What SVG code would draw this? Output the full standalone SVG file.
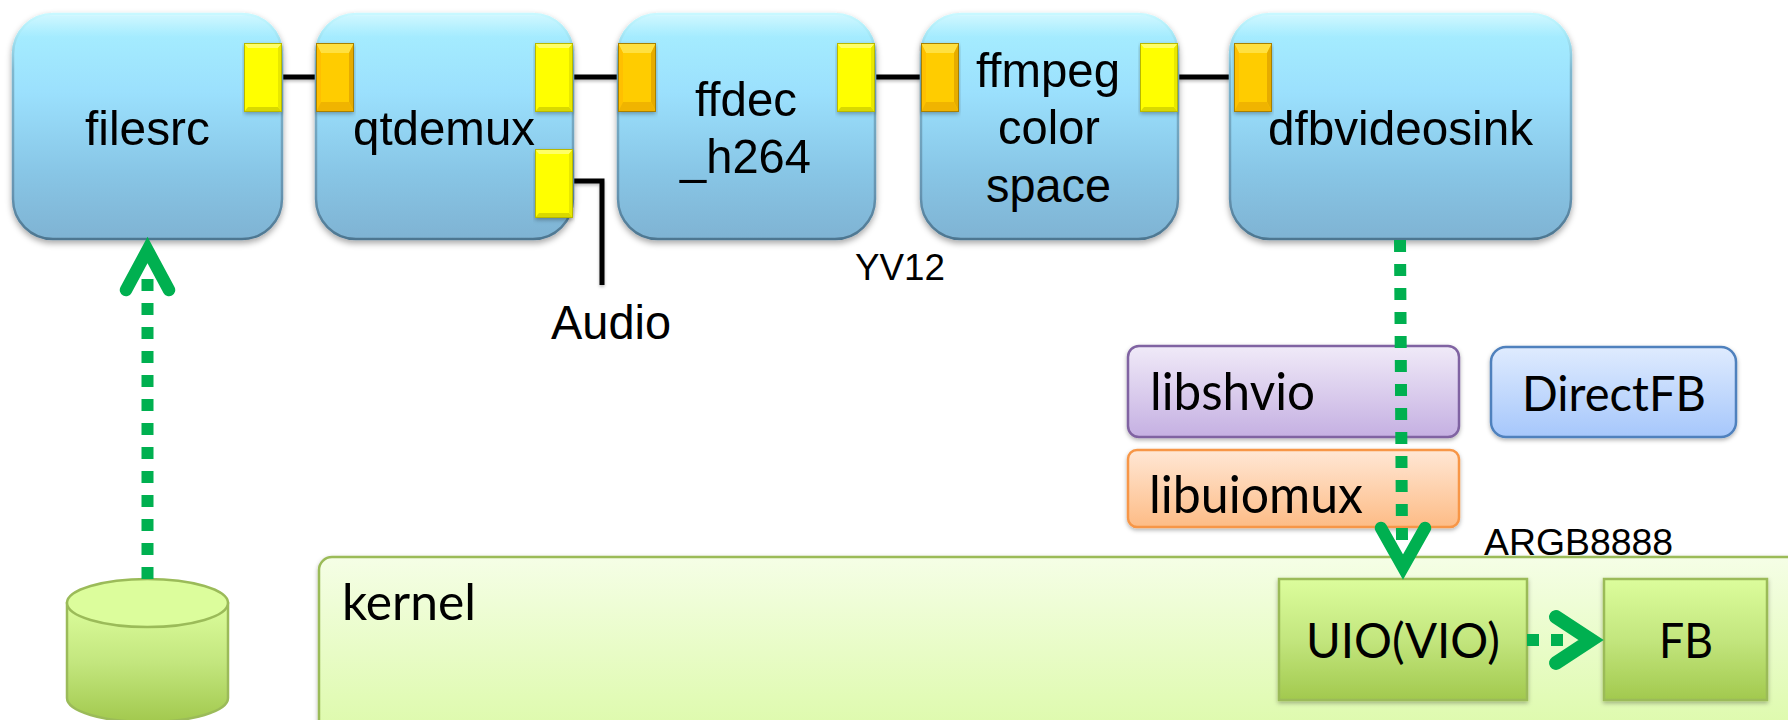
<svg xmlns="http://www.w3.org/2000/svg" width="1788" height="720" viewBox="0 0 1788 720">
<style>
.a{font-family:"Liberation Sans",Arial,sans-serif;fill:#000}
.c{font-family:Lato,"Noto Sans",sans-serif;fill:#000}
.blk{fill:url(#gBlue);stroke:url(#gBevel);stroke-width:2.500;filter:url(#sh)}
.hi{fill:url(#gHi);stroke:none}
.wire{fill:none;stroke:#000;stroke-width:5;filter:url(#shLine)}
.dots{fill:none;stroke:#00b050;stroke-width:12;stroke-dasharray:12 12}
.head{fill:none;stroke:#00b050;stroke-width:12.500;stroke-linecap:round;stroke-linejoin:miter;stroke-miterlimit:10}
.g{fill:url(#gGreen);stroke:#9bbb59;stroke-width:2.500;filter:url(#sh2)}
</style>
<defs>
<linearGradient id="gBlue" x1="0" y1="0" x2="0" y2="1"><stop offset="0" stop-color="#a8f0ff"/><stop offset=".35" stop-color="#9be0fd"/><stop offset=".7" stop-color="#88c6e6"/><stop offset="1" stop-color="#7fb3d3"/></linearGradient>
<linearGradient id="gBevel" x1="0" y1="0" x2="0" y2="1"><stop offset="0" stop-color="#c8f8ff"/><stop offset=".08" stop-color="#a8eaf8"/><stop offset=".25" stop-color="#7fb8d0"/><stop offset=".8" stop-color="#6593b0"/><stop offset="1" stop-color="#4d7690"/></linearGradient>
<linearGradient id="gHi" x1="0" y1="0" x2="0" y2="1"><stop offset="0" stop-color="#fff" stop-opacity=".45"/><stop offset=".07" stop-color="#fff" stop-opacity=".12"/><stop offset=".1" stop-color="#fff" stop-opacity="0"/></linearGradient>
<linearGradient id="gGreen" x1="0" y1="0" x2="0" y2="1"><stop offset="0" stop-color="#dcfd9c"/><stop offset=".5" stop-color="#c3e67e"/><stop offset="1" stop-color="#a2c94e"/></linearGradient>
<linearGradient id="gKern" x1="0" y1="0" x2="0" y2="1"><stop offset="0" stop-color="#f5fee6"/><stop offset="1" stop-color="#dbfaa6"/></linearGradient>
<linearGradient id="gPur" x1="0" y1="0" x2="0" y2="1"><stop offset="0" stop-color="#f0eaf8"/><stop offset="1" stop-color="#c5b0e2"/></linearGradient>
<linearGradient id="gOra" x1="0" y1="0" x2="0" y2="1"><stop offset="0" stop-color="#ffe7d5"/><stop offset="1" stop-color="#fdbc86"/></linearGradient>
<linearGradient id="gSky" x1="0" y1="0" x2="0" y2="1"><stop offset="0" stop-color="#dfebfe"/><stop offset="1" stop-color="#a6c7fb"/></linearGradient>
<filter id="sh" x="-10%" y="-10%" width="120%" height="125%"><feDropShadow dx="0" dy="3" stdDeviation="3" flood-color="#000" flood-opacity=".35"/></filter>
<filter id="sh2" x="-5%" y="-5%" width="110%" height="115%"><feDropShadow dx="0" dy="2" stdDeviation="2" flood-color="#000" flood-opacity=".3"/></filter>
<filter id="shLine" filterUnits="userSpaceOnUse" x="0" y="0" width="1788" height="720"><feDropShadow dx="0" dy="2" stdDeviation="1.500" flood-color="#000" flood-opacity=".25"/></filter>
<g id="portY" filter="url(#sh2)">
<rect width="38" height="69" fill="#ffff00"/>
<polygon points="0,0 38,0 34,5 4,5" fill="#ffff66"/>
<polygon points="0,69 38,69 34,64 4,64" fill="#d9d900"/>
<polygon points="38,0 38,69 34,64 34,5" fill="#e8e800"/>
<rect x=".5" y=".5" width="37" height="68" fill="none" stroke="#b8b800" stroke-width="1"/>
</g>
<g id="portO" filter="url(#sh2)">
<rect width="38" height="69" fill="#ffcc00"/>
<polygon points="0,0 38,0 33,10 5,10" fill="#ffe040"/>
<polygon points="0,0 5,10 5,59 0,69" fill="#ffc000"/>
<polygon points="38,0 38,69 33,59 33,10" fill="#e6ac00"/>
<polygon points="0,69 38,69 33,59 5,59" fill="#f0b400"/>
<rect x=".5" y=".5" width="37" height="68" fill="none" stroke="#a88000" stroke-width="1"/>
</g>
</defs>
<rect width="1788" height="720" fill="#fff"/>

<g id="kernel">
<rect x="319" y="557" width="1500" height="190" rx="13" fill="url(#gKern)" stroke="#9bbb59" stroke-width="2.500" filter="url(#sh2)"/>
<text class="c" x="342" y="620" font-size="51" textLength="134" lengthAdjust="spacingAndGlyphs">kernel</text>
</g>

<g id="wires">
<path class="wire" d="M282 77H316"/>
<path class="wire" d="M573 77H618"/>
<path class="wire" d="M875 77H921"/>
<path class="wire" d="M1178 77H1234"/>
<path class="wire" d="M573 181H602V285"/>
</g>

<g id="filesrc">
<rect class="blk" x="13" y="14" width="269" height="225" rx="40"/>
<rect class="hi" x="14" y="15" width="267" height="223" rx="39"/>
<use href="#portY" x="244" y="43"/>
<text class="a" x="85" y="145" font-size="49" textLength="125" lengthAdjust="spacingAndGlyphs">filesrc</text>
</g>
<g id="qtdemux">
<rect class="blk" x="316" y="14" width="257" height="225" rx="40"/>
<rect class="hi" x="317" y="15" width="255" height="223" rx="39"/>
<use href="#portO" x="316" y="43"/>
<use href="#portY" x="535" y="43"/>
<use href="#portY" x="535" y="149"/>
<text class="a" x="353" y="145" font-size="49" textLength="182" lengthAdjust="spacingAndGlyphs">qtdemux</text>
</g>
<g id="ffdec">
<rect class="blk" x="618" y="14" width="257" height="225" rx="40"/>
<rect class="hi" x="619" y="15" width="255" height="223" rx="39"/>
<use href="#portO" x="618" y="43"/>
<use href="#portY" x="837" y="43"/>
<text class="a" x="695" y="116" font-size="49" textLength="102" lengthAdjust="spacingAndGlyphs">ffdec</text>
<text class="a" x="680" y="173" font-size="49" textLength="131" lengthAdjust="spacingAndGlyphs">_h264</text>
</g>
<g id="ffmpegcolorspace">
<rect class="blk" x="921" y="14" width="257" height="225" rx="40"/>
<rect class="hi" x="922" y="15" width="255" height="223" rx="39"/>
<use href="#portO" x="921" y="43"/>
<use href="#portY" x="1140" y="43"/>
<text class="a" x="976" y="87" font-size="49" textLength="144" lengthAdjust="spacingAndGlyphs">ffmpeg</text>
<text class="a" x="998" y="144" font-size="49" textLength="102" lengthAdjust="spacingAndGlyphs">color</text>
<text class="a" x="986" y="202" font-size="49" textLength="125" lengthAdjust="spacingAndGlyphs">space</text>
</g>
<g id="dfbvideosink">
<rect class="blk" x="1230" y="14" width="341" height="225" rx="40"/>
<rect class="hi" x="1231" y="15" width="339" height="223" rx="39"/>
<use href="#portO" x="1234" y="43"/>
<text class="a" x="1268" y="145" font-size="49" textLength="265" lengthAdjust="spacingAndGlyphs">dfbvideosink</text>
</g>

<g id="libshvio">
<rect x="1128" y="346" width="331" height="91" rx="11" fill="url(#gPur)" stroke="#8064a2" stroke-width="2.500" filter="url(#sh2)"/>
<text class="c" x="1150" y="410" font-size="52" textLength="165" lengthAdjust="spacingAndGlyphs">libshvio</text>
</g>
<g id="libuiomux">
<rect x="1128" y="450" width="331" height="77" rx="9" fill="url(#gOra)" stroke="#f79646" stroke-width="2.500" filter="url(#sh2)"/>
<text class="c" x="1149" y="513" font-size="52" textLength="214" lengthAdjust="spacingAndGlyphs">libuiomux</text>
</g>
<g id="directfb">
<rect x="1491" y="347" width="245" height="90" rx="15" fill="url(#gSky)" stroke="#4f81bd" stroke-width="2.500" filter="url(#sh2)"/>
<text class="c" x="1522" y="411" font-size="48" textLength="184" lengthAdjust="spacingAndGlyphs">DirectFB</text>
</g>
<g id="storage">
<path d="M67 603V698A80.500 24 0 0 0 228 698V603Z" fill="url(#gGreen)" stroke="#9bbb59" stroke-width="2.500"/>
<ellipse cx="147.500" cy="603" rx="80.500" ry="24" fill="#dcfd9c" stroke="#9bbb59" stroke-width="2.500"/>
</g>
<g id="uio">
<rect class="g" x="1279" y="579" width="248" height="121"/>
<text class="c" x="1306" y="658" font-size="48" textLength="194" lengthAdjust="spacingAndGlyphs">UIO(VIO)</text>
</g>
<g id="fb">
<rect class="g" x="1604" y="579" width="163" height="121"/>
<text class="c" x="1659" y="658" font-size="48" textLength="54" lengthAdjust="spacingAndGlyphs">FB</text>
</g>

<g id="labels">
<text class="a" x="551" y="339" font-size="49" textLength="120" lengthAdjust="spacingAndGlyphs">Audio</text>
<text class="a" x="855" y="280" font-size="37" textLength="90" lengthAdjust="spacingAndGlyphs">YV12</text>
<text class="a" x="1484" y="555" font-size="37" textLength="189" lengthAdjust="spacingAndGlyphs">ARGB8888</text>
</g>

<g id="connectors">
<path class="dots" d="M147.500 579V279"/>
<path class="head" d="M126 290L147.500 250L169 290"/>
<path class="dots" d="M1400 240L1402 540"/>
<path class="head" d="M1381 528L1403 567L1425 528"/>
<path class="dots" d="M1527 640H1575"/>
<path class="head" style="stroke-width:14" d="M1556 617L1591 640L1556 663"/>
</g>
</svg>
